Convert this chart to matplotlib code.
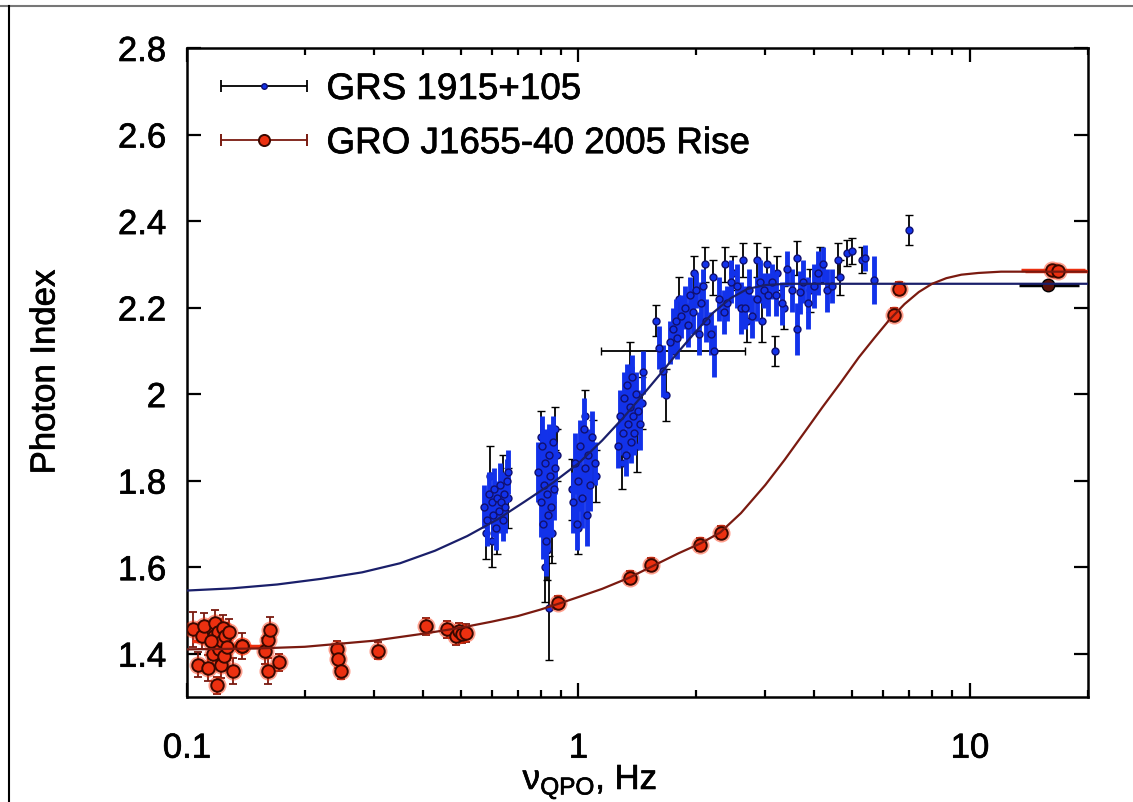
import numpy as np
import matplotlib
matplotlib.use('Agg')
import matplotlib.pyplot as plt
import matplotlib.patheffects as pe
from matplotlib.lines import Line2D
from matplotlib.container import ErrorbarContainer
from matplotlib.legend_handler import HandlerErrorbar
from matplotlib.ticker import FixedLocator, NullFormatter

plt.rcParams['font.family'] = ['Liberation Sans', 'DejaVu Sans']
plt.rcParams['mathtext.fontset'] = 'custom'
plt.rcParams['mathtext.rm'] = 'Liberation Sans'
plt.rcParams['mathtext.it'] = 'Liberation Sans:italic'
fs = 25
fs_leg = 26.5
heavy = [pe.withStroke(linewidth=0.5, foreground='black')]

# GRS 1915+105, points with thick blue bars
grs_nu = [0.575, 0.585, 0.59, 0.60, 0.605, 0.61, 0.615, 0.62, 0.625, 0.63, 0.635, 0.64, 0.645, 0.65, 0.655, 0.66,
          0.79, 0.80, 0.805, 0.81, 0.815, 0.82, 0.825, 0.83, 0.835, 0.84, 0.845, 0.85, 0.86, 0.865, 0.87,
          0.97, 0.98, 0.99, 1.0, 1.01, 1.02, 1.03, 1.04, 1.05, 1.06, 1.07, 1.08, 1.10,
          1.26, 1.28, 1.30, 1.31, 1.32, 1.33, 1.34, 1.35, 1.36, 1.37, 1.38, 1.39, 1.40, 1.42, 1.44, 1.46,
          1.61, 1.64, 1.71, 1.74, 1.77, 1.79, 1.83, 1.87, 1.90, 1.93, 1.96, 1.99, 2.03, 2.05, 2.08, 2.12,
          2.18, 2.22, 2.28, 2.35, 2.40, 2.45, 2.54, 2.60, 2.66, 2.72, 2.78, 2.85, 2.90, 2.97, 3.05, 3.12,
          3.2, 3.3, 3.4, 3.5, 3.62, 3.68, 3.75, 3.85, 4.0, 4.1, 4.2, 4.3, 4.45, 5.4, 5.7]
grs_gam = [1.74, 1.71, 1.77, 1.75, 1.72, 1.78, 1.69, 1.76, 1.73, 1.79, 1.75, 1.71, 1.77, 1.74, 1.80, 1.82,
           1.82, 1.75, 1.88, 1.70, 1.79, 1.84, 1.66, 1.77, 1.72, 1.86, 1.81, 1.74, 1.89, 1.78, 1.83,
           1.75, 1.84, 1.70, 1.80, 1.88, 1.76, 1.92, 1.83, 1.72, 1.86, 1.79, 1.90, 1.84,
           1.88, 1.95, 1.91, 1.99, 1.86, 2.02, 1.93, 1.97, 1.89, 2.04, 1.95, 1.91, 2.00, 1.96, 1.93, 2.05,
           2.107, 2.054, 2.12, 2.15, 2.17, 2.13, 2.18, 2.20, 2.16, 2.23, 2.19, 2.24, 2.14, 2.21, 2.25, 2.17,
           2.14, 2.10, 2.22, 2.19, 2.21, 2.26, 2.25, 2.20, 2.20, 2.24, 2.18, 2.22, 2.26, 2.24, 2.23, 2.26,
           2.23, 2.21, 2.29, 2.24, 2.15, 2.235, 2.26, 2.21, 2.25, 2.28, 2.30, 2.24, 2.25, 2.315, 2.264]
grs_err = [0.05, 0.06, 0.05, 0.04, 0.05, 0.05, 0.05, 0.04, 0.05, 0.05, 0.04, 0.05, 0.05, 0.06, 0.05, 0.05,
           0.07, 0.08, 0.07, 0.08, 0.07, 0.08, 0.08, 0.07, 0.08, 0.07, 0.06, 0.07, 0.06, 0.07, 0.06,
           0.07, 0.07, 0.06, 0.07, 0.06, 0.07, 0.07, 0.06, 0.07, 0.06, 0.06, 0.06, 0.05,
           0.05, 0.06, 0.05, 0.06, 0.05, 0.05, 0.06, 0.05, 0.05, 0.05, 0.06, 0.05, 0.05, 0.05, 0.06, 0.05,
           0.05, 0.06, 0.05, 0.05, 0.05, 0.05, 0.05, 0.05, 0.05, 0.04, 0.05, 0.04, 0.05, 0.05, 0.04, 0.05,
           0.05, 0.06, 0.05, 0.05, 0.04, 0.05, 0.05, 0.06, 0.05, 0.05, 0.05, 0.05, 0.05, 0.04, 0.05, 0.04,
           0.05, 0.05, 0.04, 0.05, 0.06, 0.05, 0.05, 0.06, 0.05, 0.05, 0.04, 0.05, 0.04, 0.03, 0.055]

# GRS 1915+105, points with thin black bars
grs_nu_b = [0.58, 0.595, 0.60, 0.62, 0.64, 0.66,
            0.80, 0.82, 0.83, 0.855, 0.87, 0.88,
            0.965, 1.0, 1.04, 1.09, 1.11,
            1.29, 1.35, 1.41, 1.45,
            1.58, 1.67, 1.81, 1.97, 2.1, 2.2, 2.37, 2.48, 2.63, 2.70, 2.86, 2.94, 3.03, 3.17,
            3.22, 3.35, 3.62, 3.9, 4.15, 4.6, 4.65, 4.86, 5.0, 5.3, 7.0]
grs_gam_b = [1.68, 1.81, 1.66, 1.70, 1.80, 1.76,
             1.90, 1.60, 1.64, 1.68, 1.92, 1.86,
             1.78, 1.69, 1.95, 1.87, 1.81,
             1.84, 2.06, 1.88, 1.98,
             2.17, 1.999, 2.22, 2.28, 2.30, 2.27, 2.30, 2.28, 2.31, 2.17, 2.31, 2.17, 2.30, 2.10,
             2.28, 2.20, 2.315, 2.24, 2.30, 2.31, 2.27, 2.327, 2.331, 2.31, 2.38]
grs_err_b = [0.06, 0.07, 0.06, 0.07, 0.06, 0.07,
             0.06, 0.08, 0.07, 0.07, 0.05, 0.06,
             0.07, 0.06, 0.06, 0.07, 0.06,
             0.06, 0.06, 0.06, 0.06,
             0.035, 0.06, 0.05, 0.04, 0.04, 0.04, 0.04, 0.04, 0.04, 0.05, 0.04, 0.05, 0.04, 0.035,
             0.04, 0.05, 0.04, 0.05, 0.04, 0.04, 0.04, 0.03, 0.03, 0.03, 0.035]

# GRS points with wide bars
grs_w_nu = [1.75, 0.84]
grs_w_gam = [2.10, 1.505]
grs_w_xlo = [0.61, 0.0]
grs_w_xhi = [0.91, 0.0]
grs_w_err = [0.0, 0.12]

# GRO J1655-40 2005 rise
gro_nu = [0.1035, 0.1066, 0.1092, 0.1105, 0.113, 0.1165, 0.1175, 0.118, 0.119, 0.1192, 0.12, 0.121, 0.122,
          0.1227, 0.1235, 0.124, 0.125, 0.1265, 0.128, 0.131, 0.138, 0.158, 0.161, 0.163, 0.161, 0.172,
          0.241, 0.243, 0.248, 0.308, 0.408, 0.461, 0.486, 0.495, 0.505, 0.515,
          0.884, 1.35, 1.53, 2.04, 2.31, 6.41, 6.6]
gro_gam = [1.456, 1.375, 1.440, 1.465, 1.366, 1.40, 1.44, 1.47, 1.42, 1.327, 1.45, 1.41, 1.373,
           1.43, 1.46, 1.395, 1.44, 1.415, 1.45, 1.361, 1.417, 1.407, 1.431, 1.454, 1.361, 1.38,
           1.410, 1.387, 1.361, 1.407, 1.463, 1.456, 1.44, 1.452, 1.445, 1.448,
           1.518, 1.576, 1.606, 1.652, 1.68, 2.183, 2.243]
gro_err = [0.04, 0.03, 0.03, 0.03, 0.03, 0.03, 0.03, 0.03, 0.03, 0.02, 0.03, 0.03, 0.03,
           0.03, 0.03, 0.03, 0.03, 0.03, 0.03, 0.03, 0.03, 0.03, 0.03, 0.03, 0.03, 0.02,
           0.02, 0.02, 0.02, 0.02, 0.02, 0.02, 0.02, 0.02, 0.02, 0.02,
           0.015, 0.015, 0.015, 0.015, 0.015, 0.015, 0.015]
# GRO points with horizontal bars
gro_h_nu = [0.138, 0.115, 16.2, 16.8]
gro_h_gam = [1.417, 1.43, 2.287, 2.285]
gro_h_xlo = [0.016, 0.012, 2.7, 3.0]
gro_h_xhi = [0.020, 0.006, 3.5, 3.5]
# dark point at high frequency
hi_nu = [15.8]
hi_gam = [2.253]
hi_xlo = [2.5]
hi_xhi = [3.2]

# model curves
fit_grs_nu = [0.1, 0.13, 0.17, 0.22, 0.28, 0.35, 0.43, 0.52, 0.62, 0.73, 0.86, 1.0, 1.15, 1.3,
              1.45, 1.62, 1.8, 2.0, 2.2, 2.45, 2.7, 3.0, 3.4, 5.0, 10.0, 20.0]
fit_grs_gam = [1.546, 1.551, 1.560, 1.573, 1.588, 1.609, 1.638, 1.672, 1.710, 1.752, 1.795, 1.840,
               1.893, 1.945, 1.995, 2.047, 2.098, 2.146, 2.187, 2.222, 2.243, 2.252, 2.255, 2.255,
               2.255, 2.255]
fit_gro_nu = [0.1, 0.15, 0.2, 0.3, 0.4, 0.5, 0.6, 0.7, 0.8, 0.9, 1.0, 1.15, 1.35, 1.55, 1.8, 2.05,
              2.3, 2.6, 3.0, 3.36, 3.8, 4.2, 4.66, 5.2, 5.7, 6.2, 6.8, 7.4, 8.0, 8.7, 9.5, 10.5,
              12.0, 20.0]
fit_gro_gam = [1.410, 1.412, 1.416, 1.430, 1.446, 1.460, 1.474, 1.487, 1.502, 1.517, 1.531, 1.550,
               1.576, 1.603, 1.632, 1.655, 1.680, 1.725, 1.790, 1.848, 1.915, 1.970, 2.025, 2.085,
               2.130, 2.170, 2.208, 2.236, 2.255, 2.268, 2.276, 2.280, 2.283, 2.283]

ytick_vals = [1.4, 1.6, 1.8, 2.0, 2.2, 2.4, 2.6, 2.8]
ytick_labels = ['1.4', '1.6', '1.8', '2', '2.2', '2.4', '2.6', '2.8']
xtick_vals = [0.1, 1, 10]
xtick_labels = ['0.1', '1', '10']

blue = '#1232ea'
navy = '#101070'
red = '#ec3010'
dred = '#7a1a10'

fig = plt.figure(figsize=(11.33, 8.03), dpi=100)
ax = fig.add_axes([0.1650, 0.1308, 0.7952, 0.8082])
ax.set_xscale('log')

# GRS 1915+105
ax.errorbar(grs_nu_b, grs_gam_b, yerr=grs_err_b, fmt='o', ms=5, mfc=blue, mec=navy, mew=1,
            ecolor='black', elinewidth=1.3, capsize=3, capthick=1.3, zorder=2)
ax.errorbar(grs_nu, grs_gam, yerr=grs_err, fmt='o', ms=5, mfc=blue, mec=navy, mew=1,
            ecolor=blue, elinewidth=3.5, capsize=0, zorder=3)
ax.errorbar(grs_w_nu, grs_w_gam, xerr=[grs_w_xlo, grs_w_xhi], yerr=grs_w_err, fmt='o', ms=5,
            mfc=blue, mec=navy, mew=1, ecolor='black', elinewidth=1.3, capsize=3, capthick=1.3, zorder=2)

# GRO J1655-40
ax.errorbar(gro_nu, gro_gam, yerr=gro_err, fmt='none', ecolor=dred, elinewidth=1.3,
            capsize=3, capthick=1.3, zorder=4)
ax.errorbar(gro_h_nu, gro_h_gam, xerr=[gro_h_xlo, gro_h_xhi], fmt='none', ecolor=red,
            elinewidth=2.5, capsize=0, zorder=4)
ax.errorbar(hi_nu, hi_gam, xerr=[hi_xlo, hi_xhi], fmt='o', ms=9, mfc='#5a1008', mec='black',
            ecolor='black', elinewidth=2.5, capsize=0, zorder=4)
allx = gro_nu + gro_h_nu
ally = gro_gam + gro_h_gam
ax.plot(allx, ally, 'o', ms=13, color='#ff2a00', alpha=0.45, mew=0, zorder=5)
ax.plot(allx, ally, 'o', ms=9, mfc=red, mec='#3a0800', mew=1.4, zorder=6)

# fit curves
ax.plot(fit_grs_nu, fit_grs_gam, '-', color='#1a1f6a', lw=1.6, zorder=7)
ax.plot(fit_gro_nu, fit_gro_gam, '-', color=dred, lw=1.6, zorder=7)

ax.set_xlim(0.1, 20)
ax.set_ylim(1.3, 2.8)
ax.xaxis.set_major_locator(FixedLocator(xtick_vals))
ax.set_xticklabels(xtick_labels)
minor = [m * d for d in (0.1, 1, 10) for m in range(2, 10)]
ax.xaxis.set_minor_locator(FixedLocator([v for v in minor if v <= 20]))
ax.xaxis.set_minor_formatter(NullFormatter())
ax.yaxis.set_major_locator(FixedLocator(ytick_vals))
ax.set_yticklabels(ytick_labels)
ax.tick_params(which='both', direction='in', top=True, right=True, width=1.6, labelsize=fs)
ax.tick_params(which='major', length=10)
ax.tick_params(which='minor', length=5)
ax.tick_params(axis='x', which='major', pad=25)
ax.tick_params(axis='y', which='major', pad=15)
for s in ax.spines.values():
    s.set_linewidth(1.8)
for t in ax.get_xticklabels() + ax.get_yticklabels():
    t.set_path_effects(heavy)

# legend
h1 = ax.errorbar([np.nan], [np.nan], xerr=[1], fmt='o', ms=4, mfc=blue, mec=navy,
                 ecolor='black', elinewidth=1.3, capsize=4, capthick=1.3, label='GRS 1915+105')
h2 = ax.errorbar([np.nan], [np.nan], xerr=[1], fmt='o', ms=8, mfc=red, mec='#3a0800', mew=1.4,
                 ecolor=dred, elinewidth=1.3, capsize=4, capthick=1.3, label='GRO J1655-40 2005 Rise')
leg = ax.legend(handles=[h1, h2], loc='upper left', bbox_to_anchor=(0.038, 0.963), frameon=False,
                fontsize=fs_leg, handlelength=2.33, handletextpad=0.53, labelspacing=0.52, borderpad=0,
                borderaxespad=0, handler_map={ErrorbarContainer: HandlerErrorbar(xerr_size=1.165)})
for t in leg.get_texts():
    t.set_path_effects(heavy)

fig.text(45 / 1133, 1 - 373 / 803, 'Photon Index', rotation=90, ha='center', va='center',
         fontsize=fs, path_effects=heavy)
fig.text(590 / 1133, 1 - 790 / 803, r'ν$_{\mathrm{QPO}}$, Hz', ha='center', va='baseline',
         fontsize=fs, path_effects=heavy)

# page frame
fig.add_artist(Line2D([0, 1], [0.9919, 0.9919], transform=fig.transFigure, color='#777777', lw=1.5))
fig.add_artist(Line2D([0.0079, 0.0079], [0, 0.9919], transform=fig.transFigure, color='black', lw=1.5))

fig.savefig('out.png', dpi=100)
